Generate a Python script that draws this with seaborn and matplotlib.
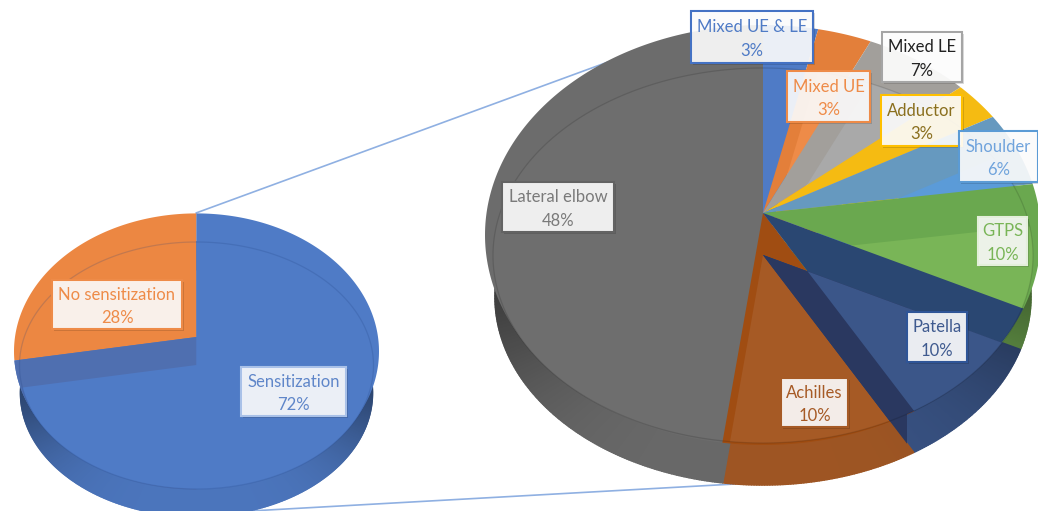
import numpy as np
import matplotlib
matplotlib.use("Agg")
import matplotlib.pyplot as plt
from matplotlib.collections import PolyCollection
from matplotlib.colors import to_rgb
from matplotlib.path import Path
from matplotlib.patches import PathPatch, Rectangle
import seaborn as sns

# ---- data ----
left_categories = ["Sensitization", "No sensitization"]
left_values = [72, 28]
right_categories = ["Mixed UE & LE", "Mixed UE", "Mixed LE", "Adductor", "Shoulder",
                    "GTPS", "Patella", "Achilles", "Lateral elbow"]
right_values = [3.2, 3.2, 6.6, 3.2, 6.3, 10.4, 9.5, 9.5, 48.1]

# ---- styles ----
left_lit = sns.color_palette(["#4f7bc6", "#ec8742"])
left_wall = sns.color_palette(["#4f7bc6", "#4f7bc6"])
left_strip = "#4f6fb0"
right_lit = sns.color_palette(["#4f7bc6", "#ee8b48", "#a9a9a9", "#fcc216", "#5b9bd8",
                               "#79b557", "#3b5689", "#a65a25", "#6e6e6e"])
right_back = sns.color_palette(["#4f7bc6", "#e37f3a", "#a29f9b", "#f5bb12", "#6699bf",
                                "#6aa84f", "#2a4772", "#a04d12", "#6c6c6c"])
patella_band = "#2a3860"
right_order = [0, 1, 2, 3, 4, 5, 8, 7, 6]

K = 0.678           # vertical squash of the rays leaving the pie centre
W, H = 1038, 511


def Y(y):
    return (H - y) / K


sns.set_theme(style="white")
plt.rcParams["font.family"] = ["Lato", "DejaVu Sans"]
fig = plt.figure(figsize=(W / 100, H / 100), dpi=100, facecolor="white")
ax = fig.add_axes([0, 0, 1, 1])


def ellipse_path(ex, ey, rx, ry, t0=0, t1=360):
    t = np.radians(np.linspace(t0, t1, 361))
    pts = np.column_stack([ex + rx * np.cos(t), Y(ey) + ry / K * np.sin(t)])
    return Path(np.vstack([pts, pts[0]]), closed=True)


def ray_hit(ox, oy, t, ell):
    """Pixel point where a ray from the apex meets an outline ellipse."""
    ex, ey, rx, ry = ell
    dx, dy = np.cos(t), -K * np.sin(t)
    px, py = (ox - ex) / rx, (oy - ey) / ry
    qx, qy = dx / rx, dy / ry
    a, b, c = qx ** 2 + qy ** 2, 2 * (px * qx + py * qy), px ** 2 + py ** 2 - 1
    s = (-b + np.sqrt(max(b ** 2 - 4 * a * c, 0))) / (2 * a)
    return ox + s * dx, oy + s * dy


def wall(values, colors, cx, apex_y, top_ell, bot_ell):
    edges = 90 - 3.6 * np.concatenate([[0], np.cumsum(values)])
    polys, faces = [], []
    for i, col in enumerate(colors):
        t = np.radians(np.linspace(edges[i], edges[i + 1], int(8 * values[i]) + 2))
        for a, b in zip(t[:-1], t[1:]):
            p = [ray_hit(cx, apex_y, a, top_ell), ray_hit(cx, apex_y, b, top_ell),
                 ray_hit(cx, apex_y, b, bot_ell), ray_hit(cx, apex_y, a, bot_ell)]
            polys.append([(x, Y(y)) for x, y in p])
            s = 0.95 - 0.42 * abs(np.cos((a + b) / 2)) ** 4
            faces.append(tuple(np.array(to_rgb(col)) * s))
    ax.add_collection(PolyCollection(polys, facecolors=faces, edgecolors=faces,
                                     linewidths=1.1, zorder=2))


def layer(values, colors, cx, cy, size, zorders, clip):
    wedges = ax.pie(values, colors=colors, center=(cx, Y(cy)), radius=size, startangle=90,
                    counterclock=False, frame=True, wedgeprops={"linewidth": 0})[0]
    for w, z in zip(wedges, zorders):
        w.set_zorder(z)
        w.set_clip_on(True)
        w.set_clip_path(clip, ax.transData)
    return wedges


# Leader lines from the small pie to the large one
line_col = "#8fb0e2"
ax.plot([196, 608], [Y(213), Y(62)], color=line_col, lw=1.2, zorder=1)
ax.plot([250, 735], [Y(511), Y(484)], color=line_col, lw=1.2, zorder=1)

# Left pie
lcx, lapex, ld = 196.5, 337, 28
l_outer = (lcx, 351.4, 182.5, 138)
l_rim = (lcx, 365.5, 177, 123.5)
l_base = (lcx, 393, 176, 123.5)
l_rim_path = ellipse_path(*l_rim)
l_outer_path = ellipse_path(*l_outer)
wall(left_values, left_wall, lcx, lapex + ld, l_rim, l_base)
layer(left_values, left_lit, lcx, lapex, 260, [13, 11], l_outer_path)
layer(left_values, left_lit, lcx, lapex + ld, 260, [15, 10], l_rim_path)
layer(left_values, [left_strip, "none"], lcx, lapex, 260, [14, 1],
      ellipse_path(*l_outer, 90, 270))
ax.add_patch(PathPatch(l_rim_path, fill=False, edgecolor="#1f3f7f",
                       alpha=0.2, lw=0.9, zorder=50))

# Right pie
rcx, rapex, rd = 763, 213, 42
r_outer = (rcx, 235, 278, 210)
r_rim = (rcx, 255.5, 270, 187.5)
r_base = (rcx, 297, 268, 188)
r_rim_path = ellipse_path(*r_rim)
r_outer_path = ellipse_path(*r_outer)
wall(right_values, right_lit, rcx, rapex + rd, r_rim, r_base)
rank = [right_order.index(i) for i in range(len(right_values))]
layer(right_values, right_back, rcx, rapex, 400, [10 + 2 * r for r in rank], r_outer_path)
layer(right_values, right_lit, rcx, rapex + rd, 400, [11 + 2 * r for r in rank], r_rim_path)

# The Patella slice: dark band along its cut faces, lit face where both outlines overlap
pat = right_categories.index("Patella")
cum = np.cumsum(right_values)
hide = ["none"] * len(right_values)
band_cols = list(hide)
band_cols[pat] = patella_band
layer(right_values, band_cols, rcx, rapex + rd, 400, [40] * len(right_values), r_rim_path)
# the band carries on through the side wall, as far as the slice's outer corner
layer(right_values, band_cols, rcx, rapex + rd, 400, [39] * len(right_values),
      ellipse_path(*r_base, 57.5, 302.5))
t1 = np.radians(3.6 * cum[pat - 1])     # clockwise from the top: upper edge
t2 = np.radians(3.6 * cum[pat])         # lower edge
d1 = np.array([np.sin(t1), -K * np.cos(t1)])
d2 = np.array([np.sin(t2), -K * np.cos(t2)])
sol = np.linalg.solve(np.column_stack([d2, -d1]), [0, rd])
lit_cols = list(hide)
lit_cols[pat] = right_lit[pat]
layer(right_values, lit_cols, rcx + sol[0] * d2[0], rapex + sol[0] * d2[1], 400,
      [41] * len(right_values), r_rim_path)
ax.add_patch(PathPatch(r_rim_path, fill=False, edgecolor="black",
                       alpha=0.13, lw=0.9, zorder=50))

# Data labels
label_names = left_categories + right_categories
label_values = left_values + right_values
label_boxes = [(241, 367, 346, 416), (52, 280, 182, 329),
               (691, 11, 813, 63), (787, 71, 870, 122), (882, 32, 962, 82),
               (881, 95, 962, 146), (959, 131, 1038, 182), (978, 217, 1027, 265),
               (907, 312, 967, 362), (781, 378, 848, 427), (502, 182, 614, 232)]
label_text = ["#5f86c9", "#ee8b48", "#4f7bc6", "#ee8b48", "#222222", "#8a6f1e", "#6fa3dc",
              "#79b557", "#3f5a8f", "#a65a25", "#7a7a7a"]
label_edge = ["#a9c1e8", "#ee8b48", "#4472c4", "#ee8b48", "#a5a5a5", "#ffc000", "#5b9bd5",
              "#e3efda", "#2f5597", "#a65a25", "#636363"]
label_face = [0.9, 0.9, 0.9, 0.9, 0.93, 0.9, 0.9, 0.88, 0.9, 0.9, 0.9]
for name, val, (x0, y0, x1, y1), tc, ec, fa in zip(label_names, label_values, label_boxes,
                                                    label_text, label_edge, label_face):
    ax.add_patch(Rectangle((x0 + 2, Y(y1 + 2)), x1 - x0, (y1 - y0) / K, facecolor="black",
                           alpha=0.14, lw=0, zorder=58))
    ax.add_patch(Rectangle((x0, Y(y1)), x1 - x0, (y1 - y0) / K, facecolor=(1, 1, 1, fa),
                           edgecolor=ec, lw=1.5, zorder=60))
    ax.text((x0 + x1) / 2, Y((y0 + y1) / 2 + 2), f"{name}\n{round(val)}%", color=tc, fontsize=12,
            ha="center", va="center", linespacing=1.55, zorder=61)

ax.set_aspect("auto")
ax.set_xlim(0, W)
ax.set_ylim(0, Y(0))
ax.axis("off")
fig.savefig("out.png", dpi=100, facecolor="white")
